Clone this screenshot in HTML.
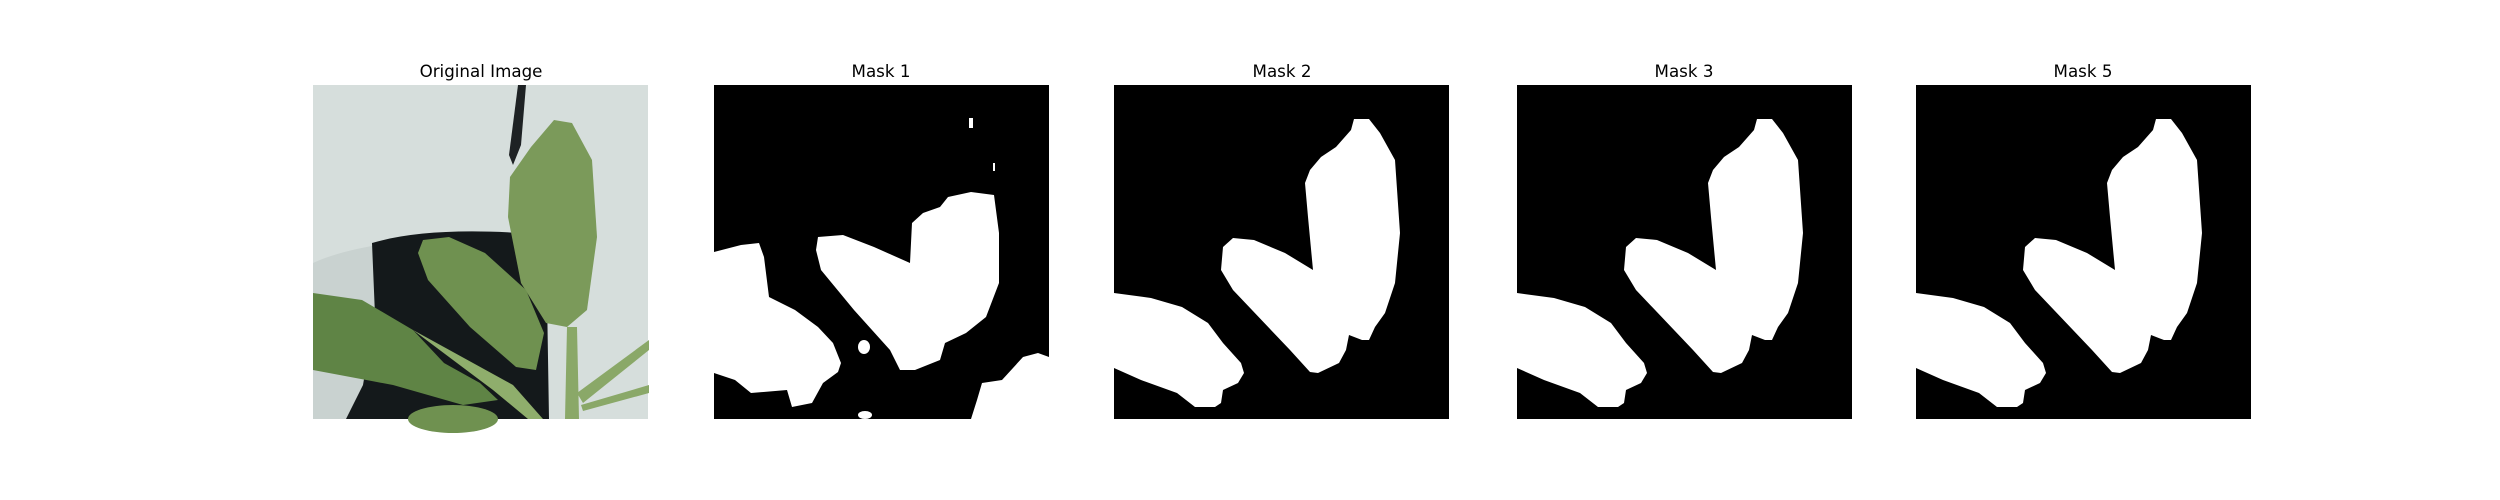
<!DOCTYPE html>
<html><head><meta charset="utf-8"><style>
html,body{margin:0;padding:0;background:#fff;}
svg{display:block;}
text{font-family:"DejaVu Sans","Liberation Sans",sans-serif;font-size:16.7px;fill:#000;}
</style></head><body>
<svg width="2500" height="500" viewBox="0 0 2500 500">
<defs>
<g id="maskA">
<rect x="0" y="0" width="335" height="334" fill="#000"/>
<path fill="#fff" d="M240,34 L255,34 L266,48 L281,75 L286,148 L281,198 L271,228 L261,242 L255,255 L248,255 L235,250 L232,265 L225,278 L204,288 L196,287 L176,265 L119,205 L107,185 L109,162 L119,153 L140,155 L171,168 L199,185 L194,132 L191,98 L196,85 L207,72 L222,62 L237,45 Z"/>
<path fill="#fff" d="M0,208 L37,213 L68,222 L94,238 L109,258 L127,278 L130,288 L124,298 L109,305 L107,318 L101,322 L81,322 L63,308 L27,295 L0,283 Z"/>
</g>
</defs>

<!-- Original image -->
<g transform="translate(313,85)">
<rect x="0" y="0" width="335" height="334" fill="#d6dedc"/>
<path d="M0,178 Q60,150 233,148 L233,334 L0,334 Z" fill="#c9d2d0"/>
<path d="M59,158 Q120,140 233,150 L236,334 L33,334 L50,300 L62,230 Z" fill="#14191b"/>
<path d="M205,0 L213,0 L208,60 L200,80 L196,70 Z" fill="#1e2224"/>
<path d="M241,35 L259,38 L279,75 L284,152 L274,225 L254,242 L233,238 L208,198 L195,132 L197,92 L218,62 Z" fill="#7b9a5a"/>
<path d="M110,155 L136,152 L172,168 L213,205 L231,248 L223,285 L203,282 L157,242 L115,195 L105,168 Z" fill="#6f9150"/>
<path d="M0,208 L49,215 L100,245 L131,278 L167,298 L185,315 L150,320 L80,300 L0,285 Z" fill="#5f8445"/>
<path d="M254,242 L264,242 L266,334 L252,334 Z" fill="#8aa868"/>
<path d="M264,308 L336,255 L336,265 L270,318 Z" fill="#8aa868"/>
<path d="M268,320 L336,300 L336,308 L270,326 Z" fill="#8aa868"/>
<path d="M100,245 L200,300 L230,334 L215,334 L180,305 Z" fill="#8fae6c"/>
<ellipse cx="140" cy="334" rx="45" ry="14" fill="#6f9150"/>
</g>
<text x="481" y="77" text-anchor="middle">Original Image</text>

<!-- Mask 1 -->
<g transform="translate(714,85)">
<rect x="0" y="0" width="335" height="334" fill="#000"/>
<path fill="#fff" d="M104,152 L129,150 L160,162 L196,178 L198,138 L209,128 L226,122 L234,112 L257,107 L280,110 L285,148 L285,198 L272,232 L252,248 L231,258 L226,275 L201,285 L186,285 L176,265 L140,225 L107,185 L102,165 Z"/>
<path fill="#fff" d="M0,167 L27,160 L45,158 L50,172 L55,212 L81,225 L104,242 L119,258 L127,278 L124,287 L109,298 L98,318 L78,322 L73,305 L37,308 L21,295 L0,288 Z"/>
<path fill="#fff" d="M335,272 L324,268 L309,272 L288,295 L268,298 L263,315 L257,334 L335,334 Z"/>
<ellipse cx="150" cy="262" rx="6" ry="7" fill="#fff"/>
<ellipse cx="151" cy="330" rx="7" ry="4" fill="#fff"/>
<rect x="255" y="33" width="4" height="10" fill="#fff"/>
<rect x="279" y="78" width="2" height="8" fill="#fff"/>
</g>
<text x="881" y="77" text-anchor="middle">Mask 1</text>

<g transform="translate(1114,85)"><use href="#maskA"/></g>
<text x="1282" y="77" text-anchor="middle">Mask 2</text>

<g transform="translate(1517,85)"><use href="#maskA"/></g>
<text x="1684" y="77" text-anchor="middle">Mask 3</text>

<g transform="translate(1916,85)"><use href="#maskA"/></g>
<text x="2083" y="77" text-anchor="middle">Mask 5</text>
</svg>
</body></html>
